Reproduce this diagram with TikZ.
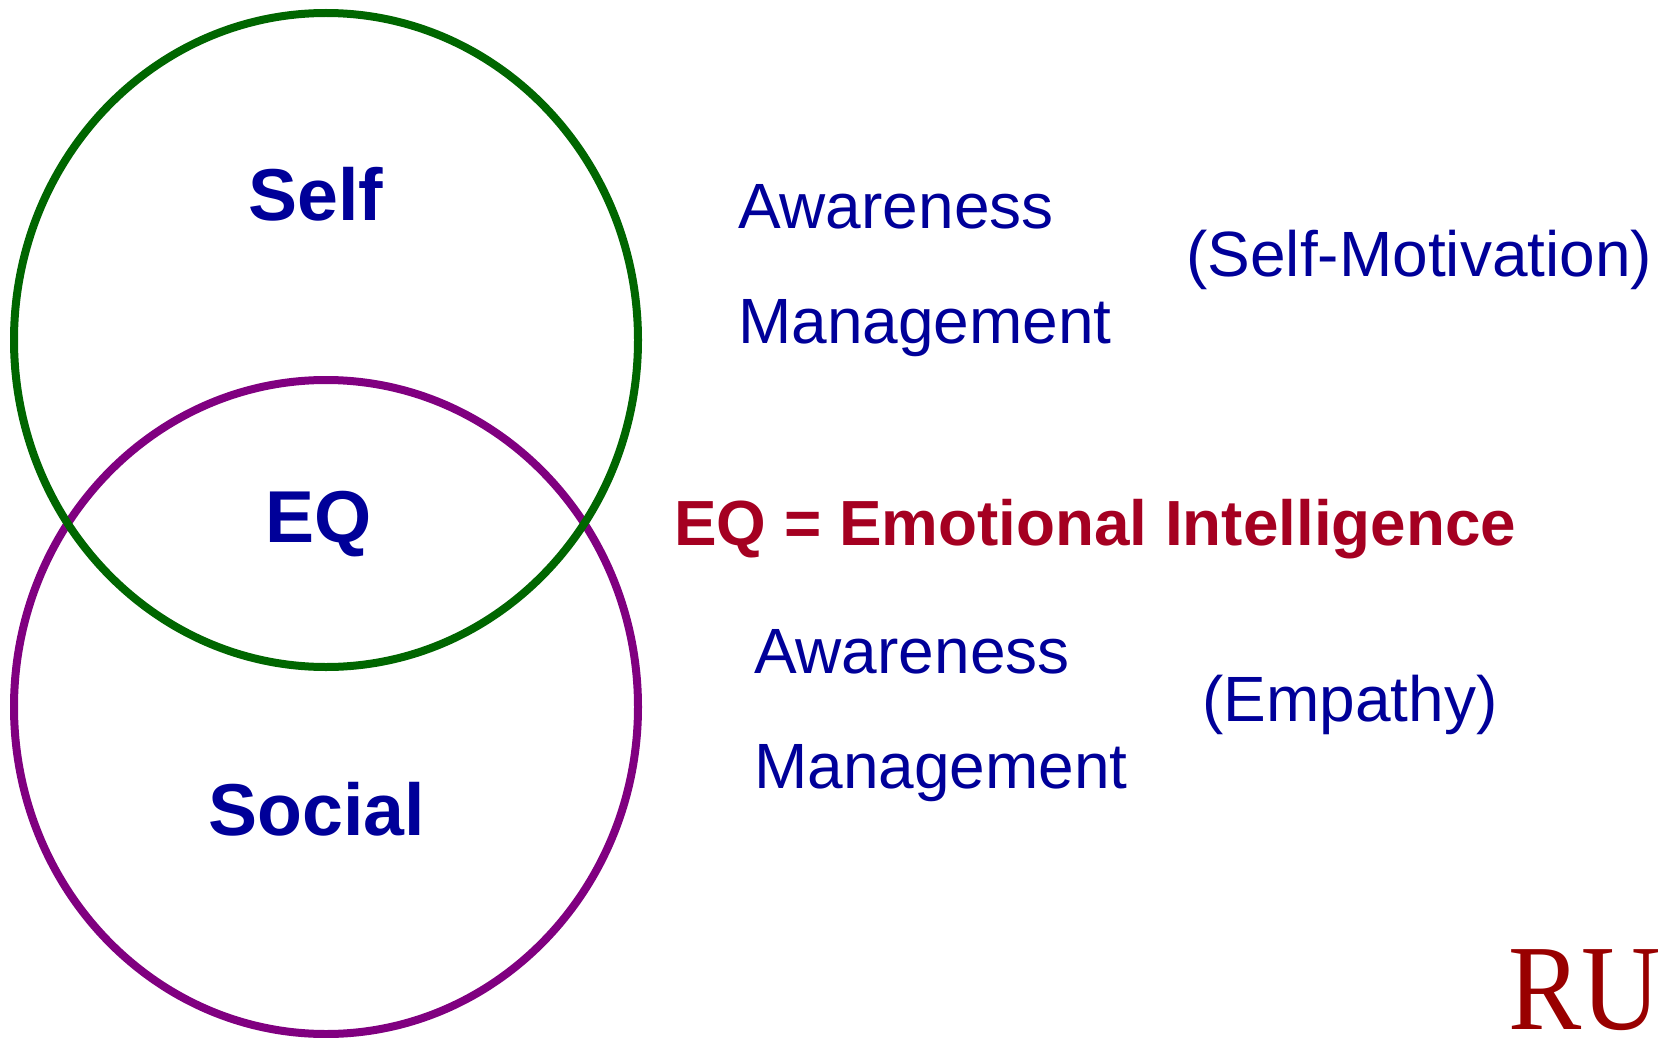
\documentclass[tikz,border=0pt]{standalone}
\usepackage{fontspec}
\usetikzlibrary{shapes.geometric}
\setmainfont{Liberation Sans}
\newfontfamily\serifru{Liberation Serif}
\definecolor{navy}{RGB}{0,0,153}
\definecolor{grn}{RGB}{0,102,0}
\definecolor{purp}{RGB}{128,0,128}
\definecolor{crim}{RGB}{165,0,33}
\definecolor{rured}{RGB}{153,0,0}
\tikzset{x=1pt,y=-1pt,
 ring/.style={ellipse,draw,line width=8pt,minimum width=624pt,minimum height=654pt,inner sep=0pt},
 big/.style={text=navy,font=\fontsize{73.5}{73.5}\selectfont\bfseries,inner sep=0pt,anchor=base},
 lab/.style={text=navy,font=\fontsize{64}{64}\selectfont,inner sep=0pt,anchor=base west}}
\begin{document}
\begin{tikzpicture}
\useasboundingbox (0,0) rectangle (1668,1038);
\node[ring,draw=purp] (social) at (326,707) {};
\node[ring,draw=grn] (self) at (326,340) {};
\node[big] (t1) at (316,220) {Self};
\node[big] (t2) at (319,542) {EQ};
\node[big] (t3) at (317,835) {Social};
\node[lab] (a1) at (738,228) {Awareness};
\node[lab] (m1) at (738,343) {Management};
\node[lab] (s1) at (1186,276) {(Self-Motivation)};
\node[lab] (a2) at (754,673) {Awareness};
\node[lab] (m2) at (754,788) {Management};
\node[lab] (s2) at (1202,721) {(Empathy)};
\node[text=crim,font=\fontsize{63.8}{64}\selectfont\bfseries,inner sep=0pt,anchor=base west] (eq) at (674,545) {EQ = Emotional Intelligence};
\node[text=rured,font=\serifru\fontsize{122}{122}\selectfont,inner sep=0pt,anchor=base west,xscale=0.9] (ru) at (1508,1029) {RU};
\end{tikzpicture}
\end{document}
